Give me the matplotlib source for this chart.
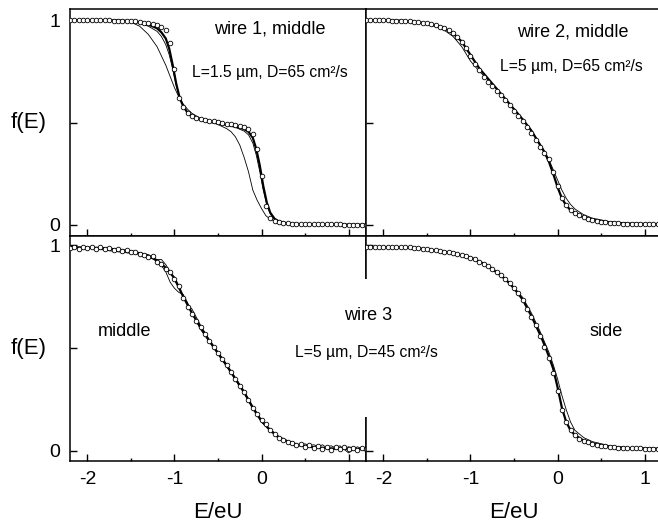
import numpy as np
import matplotlib
matplotlib.use('Agg')
from matplotlib import pyplot as plt
from matplotlib.patches import Rectangle

plt.rcParams['font.family'] = ['Liberation Sans', 'DejaVu Sans']
plt.rcParams['axes.unicode_minus'] = False

# energy grid of the measured points, E/eU from -2.2 to 1.2 in steps of 0.05
e_pts = np.round(np.linspace(-2.2, 1.2, 69), 2)

# measured f(E), open circles
w1_mid = [1.0, 1.0, 1.0, 1.0, 1.0, 1.0, 0.999, 0.999, 0.998, 0.998,
          0.997, 0.997, 0.996, 0.995, 0.994, 0.993, 0.99, 0.988, 0.985, 0.98,
          0.975, 0.965, 0.95, 0.89, 0.76, 0.62, 0.575, 0.545, 0.53, 0.52,
          0.515, 0.511, 0.508, 0.505, 0.501, 0.498, 0.495, 0.491, 0.488, 0.484,
          0.478, 0.468, 0.445, 0.37, 0.24, 0.09, 0.035, 0.018, 0.012, 0.009,
          0.008, 0.006, 0.005, 0.005, 0.004, 0.004, 0.004, 0.003, 0.003, 0.003,
          0.003, 0.003, 0.003, 0.002, 0.002, 0.002, 0.002, 0.002, 0.002]
w2_mid = [1.0, 1.0, 1.0, 1.0, 0.999, 0.998, 0.997, 0.996, 0.995, 0.994,
          0.993, 0.992, 0.99, 0.988, 0.985, 0.98, 0.975, 0.968, 0.96, 0.95,
          0.935, 0.918, 0.895, 0.865, 0.825, 0.785, 0.755, 0.72, 0.70, 0.678,
          0.655, 0.635, 0.61, 0.585, 0.555, 0.53, 0.505, 0.48, 0.45, 0.415,
          0.38, 0.35, 0.32, 0.26, 0.19, 0.13, 0.095, 0.075, 0.06, 0.048,
          0.038, 0.03, 0.025, 0.02, 0.016, 0.013, 0.011, 0.009, 0.008, 0.007,
          0.006, 0.005, 0.005, 0.004, 0.004, 0.003, 0.003, 0.003, 0.003]
w3_mid = [0.985, 0.99, 0.98, 0.992, 0.985, 0.99, 0.982, 0.99, 0.98, 0.985,
          0.975, 0.982, 0.97, 0.975, 0.965, 0.968, 0.955, 0.95, 0.94, 0.945,
          0.92, 0.91, 0.885, 0.87, 0.835, 0.80, 0.745, 0.70, 0.665, 0.63,
          0.60, 0.57, 0.535, 0.505, 0.475, 0.445, 0.415, 0.385, 0.35, 0.315,
          0.285, 0.245, 0.21, 0.18, 0.15, 0.13, 0.10, 0.08, 0.065, 0.055,
          0.045, 0.04, 0.03, 0.035, 0.02, 0.03, 0.015, 0.025, 0.01, 0.02,
          0.005, 0.02, 0.01, 0.018, 0.008, 0.015, 0.005, 0.012, 0.01]
w3_side = [0.99, 0.99, 0.99, 0.99, 0.99, 0.99, 0.99, 0.99, 0.99, 0.99,
           0.99, 0.988, 0.985, 0.982, 0.98, 0.977, 0.975, 0.972, 0.968, 0.965,
           0.96, 0.955, 0.95, 0.945, 0.937, 0.93, 0.92, 0.91, 0.90, 0.885,
           0.87, 0.855, 0.835, 0.815, 0.79, 0.765, 0.735, 0.69, 0.65, 0.61,
           0.56, 0.505, 0.45, 0.38, 0.29, 0.20, 0.14, 0.10, 0.075, 0.06,
           0.05, 0.042, 0.035, 0.03, 0.026, 0.022, 0.02, 0.018, 0.016, 0.015,
           0.014, 0.013, 0.012, 0.012, 0.011, 0.011, 0.01, 0.01, 0.01]

# calculated curves
e_w1 = [-2.2, -1.6, -1.4, -1.3, -1.2, -1.15, -1.1, -1.06, -1.02, -0.98, -0.94, -0.9,
        -0.85, -0.8, -0.7, -0.6, -0.5, -0.4, -0.3, -0.2, -0.15, -0.1, -0.06, -0.02,
        0.02, 0.06, 0.1, 0.15, 0.2, 0.3, 0.5, 1.2]
w1_thick = [1.0, 0.998, 0.99, 0.978, 0.96, 0.94, 0.91, 0.86, 0.78, 0.69, 0.62, 0.58,
            0.548, 0.53, 0.513, 0.504, 0.497, 0.49, 0.482, 0.468, 0.455, 0.425, 0.37, 0.29,
            0.19, 0.11, 0.06, 0.03, 0.017, 0.007, 0.003, 0.001]
w1_med = [1.0, 0.996, 0.985, 0.97, 0.945, 0.92, 0.88, 0.83, 0.76, 0.68, 0.62, 0.58,
          0.55, 0.53, 0.512, 0.502, 0.494, 0.486, 0.476, 0.458, 0.44, 0.40, 0.34, 0.26,
          0.17, 0.10, 0.055, 0.028, 0.015, 0.006, 0.002, 0.0]
e_w1_thin = [-2.2, -1.8, -1.6, -1.5, -1.4, -1.3, -1.2, -1.1, -1.0, -0.95, -0.9, -0.85,
             -0.8, -0.7, -0.6, -0.5, -0.4, -0.35, -0.3, -0.25, -0.2, -0.15, -0.1, -0.05,
             0.0, 0.05, 0.1, 0.2, 0.3, 0.5, 1.2]
w1_thin = [1.0, 0.998, 0.995, 0.99, 0.97, 0.93, 0.87, 0.78, 0.67, 0.625, 0.59, 0.565,
           0.545, 0.52, 0.505, 0.49, 0.47, 0.455, 0.43, 0.39, 0.33, 0.26, 0.17, 0.12,
           0.08, 0.045, 0.028, 0.01, 0.005, 0.002, 0.0]

e_w2 = [-2.2, -1.8, -1.6, -1.4, -1.3, -1.2, -1.1, -1.0, -0.9, -0.8, -0.7, -0.6, -0.5,
        -0.4, -0.3, -0.2, -0.15, -0.1, -0.05, 0.0, 0.05, 0.1, 0.15, 0.2, 0.3, 0.4,
        0.6, 0.8, 1.2]
w2_thick = [1.0, 0.997, 0.99, 0.975, 0.96, 0.935, 0.895, 0.83, 0.765, 0.715, 0.665,
            0.615, 0.565, 0.515, 0.46, 0.39, 0.355, 0.31, 0.25, 0.185, 0.13, 0.095,
            0.072, 0.057, 0.037, 0.025, 0.012, 0.007, 0.003]
w2_thin = [1.0, 0.996, 0.988, 0.968, 0.95, 0.92, 0.87, 0.80, 0.75, 0.71, 0.665,
           0.615, 0.565, 0.515, 0.46, 0.395, 0.36, 0.32, 0.27, 0.22, 0.17, 0.13,
           0.10, 0.078, 0.05, 0.033, 0.016, 0.008, 0.003]

e_w3 = [-2.2, -1.8, -1.5, -1.3, -1.2, -1.1, -1.0, -0.9, -0.8, -0.7, -0.6, -0.5, -0.4,
        -0.3, -0.2, -0.1, 0.0, 0.1, 0.2, 0.3, 0.4, 0.6, 0.8, 1.0, 1.2]
w3_thick = [0.99, 0.985, 0.97, 0.95, 0.925, 0.89, 0.84, 0.75, 0.67, 0.60, 0.535,
            0.475, 0.415, 0.35, 0.285, 0.21, 0.145, 0.10, 0.065, 0.045, 0.03, 0.018,
            0.012, 0.01, 0.008]
e_w3_raw = [-2.2, -2.0, -1.8, -1.6, -1.4, -1.3, -1.2, -1.15, -1.1, -1.05, -1.0, -0.95,
            -0.9, -0.85, -0.8, -0.75, -0.7, -0.6, -0.5, -0.4, -0.3, -0.2, -0.1, 0.0,
            0.1, 0.2, 0.3, 0.4, 0.5, 0.6, 0.7, 0.8, 0.9, 1.0, 1.1, 1.2]
w3_raw_a = [0.99, 0.985, 0.98, 0.97, 0.96, 0.945, 0.92, 0.90, 0.87, 0.82, 0.79, 0.77,
            0.76, 0.72, 0.67, 0.63, 0.59, 0.53, 0.47, 0.41, 0.345, 0.28, 0.205, 0.14,
            0.10, 0.06, 0.045, 0.02, 0.035, 0.01, 0.03, 0.0, 0.025, -0.01, 0.02, 0.005]
w3_raw_b = [0.98, 0.99, 0.975, 0.965, 0.955, 0.94, 0.93, 0.93, 0.905, 0.87, 0.83, 0.79,
            0.75, 0.71, 0.69, 0.65, 0.61, 0.54, 0.48, 0.42, 0.355, 0.29, 0.215, 0.15,
            0.105, 0.07, 0.05, 0.035, 0.02, 0.03, 0.015, 0.025, 0.005, 0.02, 0.01, 0.012]

e_w3s = [-2.2, -1.8, -1.5, -1.2, -1.0, -0.8, -0.6, -0.5, -0.4, -0.3, -0.2, -0.15,
         -0.1, -0.05, 0.0, 0.05, 0.1, 0.15, 0.2, 0.3, 0.4, 0.6, 0.8, 1.2]
w3s_thick = [0.99, 0.99, 0.98, 0.96, 0.94, 0.90, 0.835, 0.79, 0.735, 0.655, 0.565,
             0.515, 0.46, 0.40, 0.31, 0.21, 0.14, 0.10, 0.077, 0.05, 0.035, 0.02,
             0.014, 0.01]
w3s_thin = [0.99, 0.99, 0.98, 0.96, 0.94, 0.90, 0.835, 0.795, 0.745, 0.67, 0.58,
            0.53, 0.48, 0.42, 0.35, 0.27, 0.20, 0.14, 0.10, 0.065, 0.045, 0.025,
            0.016, 0.012]

W, H = 658, 522
fig = plt.figure(figsize=(W / 100, H / 100), dpi=100)


def px_axes(x0, y0, x1, y1):
    return fig.add_axes([x0 / W, 1 - y1 / H, (x1 - x0) / W, (y1 - y0) / H])


ax1 = px_axes(70, 9, 366, 236)
ax2 = px_axes(366, 9, 662, 236)
ax3 = px_axes(70, 236, 366, 461)
ax4 = px_axes(366, 236, 662, 461)

for ax, ylim in [(ax1, (-0.054, 1.054)), (ax2, (-0.054, 1.054)),
                 (ax3, (-0.049, 1.044)), (ax4, (-0.049, 1.044))]:
    ax.set_xlim(-2.2, 1.2)
    ax.set_ylim(*ylim)
    for s in ax.spines.values():
        s.set_linewidth(1.1)
    ax.set_xticks([-2, -1, 0, 1])
    ax.set_xticks([-1.5, -0.5, 0.5], minor=True)
    ax.set_yticks([0, 0.5, 1])
    ax.tick_params(which='both', direction='in', top=False, right=False,
                   labelsize=14, pad=7, width=1.0)
    ax.tick_params(which='major', length=5)
    ax.tick_params(which='minor', length=2.5)

for ax in (ax1, ax3):
    ax.set_yticklabels(['0', '', '1'])
    ax.set_ylabel('f(E)', fontsize=16, rotation=0, labelpad=8, va='center')
    ax.yaxis.set_label_coords(-0.14, 0.5)
for ax in (ax2, ax4):
    ax.set_yticklabels([])
for ax in (ax1, ax2):
    ax.set_xticklabels([])
for ax in (ax3, ax4):
    ax.set_xticklabels(['-2', '-1', '0', '1'])
    ax.set_xlabel('E/eU', fontsize=16, labelpad=10)

pts = dict(marker='o', ms=3.3, mfc='white', mec='black', mew=0.6, ls='none', zorder=3)
thick = dict(color='black', lw=1.6, zorder=2)
thin = dict(color='black', lw=0.6, zorder=2)

ax1.plot(e_w1_thin, w1_thin, **thin)
ax1.plot(e_w1, w1_med, **thin)
ax1.plot(e_w1, w1_thick, **thick)
ax1.plot(e_pts, w1_mid, **pts)

ax2.plot(e_w2, w2_thin, **thin)
ax2.plot(e_w2, w2_thick, **thick)
ax2.plot(e_pts, w2_mid, **pts)

ax3.plot(e_w3_raw, w3_raw_a, **thin)
ax3.plot(e_w3_raw, w3_raw_b, **thin)
ax3.plot(e_w3, w3_thick, **thick)
ax3.plot(e_pts, w3_mid, **pts)

ax4.plot(e_w3s, w3s_thin, **thin)
ax4.plot(e_w3s, w3s_thick, **thick)
ax4.plot(e_pts, w3_side, **pts)


def ftext(x, y, s, size):
    fig.text(x / W, 1 - y / H, s, fontsize=size, ha='center', va='center', zorder=11)


ftext(270, 29, 'wire 1, middle', 13)
ftext(270, 72, 'L=1.5 µm, D=65 cm²/s', 11.3)
ftext(573, 32, 'wire 2, middle', 13)
ftext(571, 67, 'L=5 µm, D=65 cm²/s', 11.3)
ftext(125, 332, 'middle', 13)
ftext(606, 332, 'side', 13)

# white patch where the wire 3 labels cross the panel border
fig.add_artist(Rectangle((292 / W, 1 - 417 / H), 148 / W, 138 / H,
                         transform=fig.transFigure, facecolor='white',
                         edgecolor='none', zorder=10))
ftext(368, 316, 'wire 3', 13)
ftext(366, 352, 'L=5 µm, D=45 cm²/s', 11.3)

fig.savefig('out.png', dpi=100)
